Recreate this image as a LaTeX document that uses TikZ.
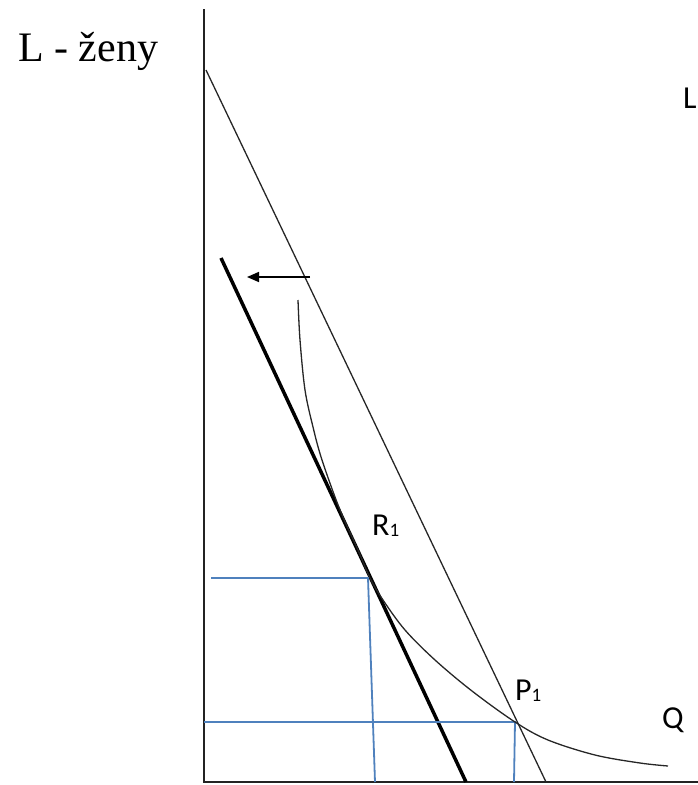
\documentclass[tikz,border=0pt]{standalone}
\usepackage{fontspec}
\setmainfont{Liberation Serif}
\newfontfamily\lblfont{Carlito}
\usetikzlibrary{arrows.meta}
\definecolor{axisgray}{RGB}{35,35,35}
\definecolor{guideblue}{RGB}{79,129,189}
\newcommand{\subone}{{\fontsize{19}{19}\selectfont\raisebox{-1.5pt}{1}}}
\begin{document}
\begin{tikzpicture}[x=1pt,y=-1pt,
  axis/.style={line width=2pt, draw=axisgray},
  thinline/.style={line width=1.3pt, draw=black!85},
  thickline/.style={line width=3.5pt, draw=black},
  guide/.style={line width=1.8pt, draw=guideblue},
  curveline/.style={line width=1.3pt, draw=black!85},
  lbl/.style={font=\lblfont\fontsize{32}{34}\selectfont, inner sep=0pt, anchor=base west},
  title/.style={font=\fontsize{42}{44}\selectfont, inner sep=0pt, anchor=base west},
]
\useasboundingbox (0,0) rectangle (698,785);
% axes
\coordinate (O) at (204,782);
\coordinate (ytop) at (204,9);
\coordinate (xend) at (698,782);
\draw[axis] (ytop) -- (O) -- (xend);
% budget lines
\coordinate (b1s) at (206,70);
\coordinate (b1e) at (546,782);
\draw[thinline] (b1s) -- (b1e);
\coordinate (b2s) at (221,258);
\coordinate (b2e) at (466,782);
\draw[thickline] (b2s) -- (b2e);
% arrow
\coordinate (as) at (310,277);
\coordinate (ae) at (247,277);
\draw[line width=1.6pt, -{Triangle[length=12pt,width=10pt]}] (as) -- (ae);
% guides
\coordinate (R1pt) at (368,578);
\coordinate (P1pt) at (515,722);
\coordinate (g1) at (211,578);
\coordinate (g2) at (375,782);
\coordinate (g3) at (204,722);
\coordinate (g4) at (514,782);
\draw[guide] (g1) -- (R1pt) -- (g2);
\draw[guide] (g3) -- (P1pt) -- (g4);
% indifference curve
\draw[curveline] plot[smooth, tension=0.55] coordinates {
 (298,300) (300,340) (305,390) (313,427) (322,460) (340,510) (358,550)
 (370,578) (383,600) (405,630) (435,660) (472,691) (515,722) (548,740)
 (595,755) (640,763) (668,766)};
% labels
\node[title] (ttl) at (18,61) {L - ženy};
\node[lbl] (Ltop) at (683,108) {L};
\node[lbl] (R1) at (372,535) {R\subone};
\node[lbl] (P1) at (515,700) {P\subone};
\node[lbl] (Q) at (662,728) {Q};
\end{tikzpicture}
\end{document}
